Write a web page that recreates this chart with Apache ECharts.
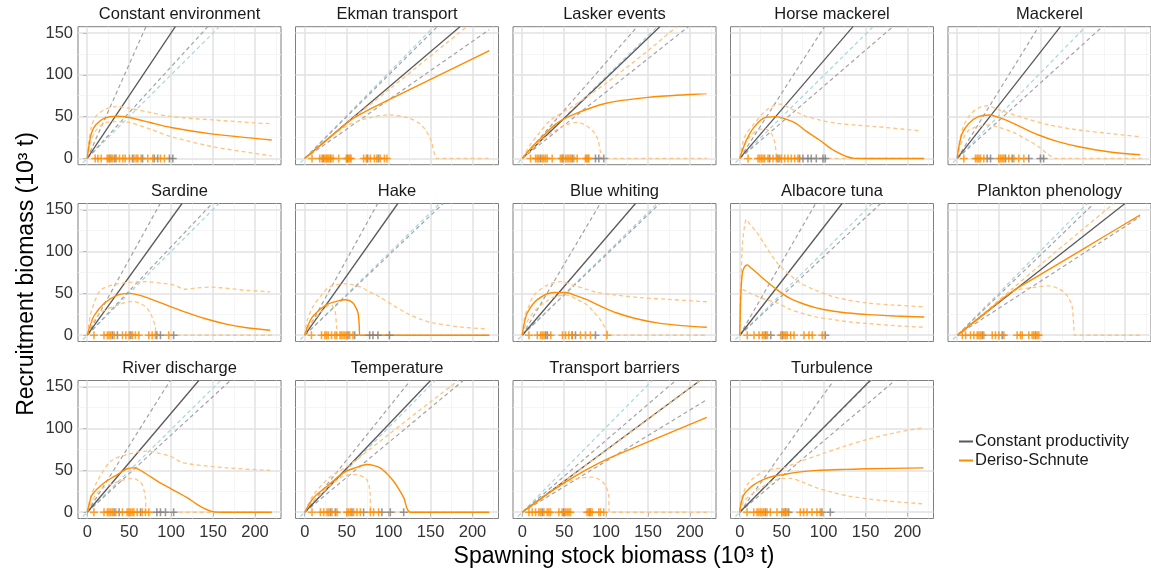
<!DOCTYPE html>
<html>
<head>
<meta charset="utf-8">
<script src="https://cdn.jsdelivr.net/npm/echarts@6/dist/echarts.min.js"></script>
<style>
html, body { margin: 0; padding: 0; background: #fff; }
#chart { width: 1151px; height: 574px; }
</style>
</head>
<body>
<div id="chart"></div>
<script>
// panel titles, read left to right, top to bottom
var titles = ['Constant environment', 'Ekman transport', 'Lasker events', 'Horse mackerel', 'Mackerel',
    'Sardine', 'Hake', 'Blue whiting', 'Albacore tuna', 'Plankton phenology',
    'River discharge', 'Temperature', 'Transport barriers', 'Turbulence'];

var xTicks = [0, 50, 100, 150, 200];
var xMinor = [25, 75, 125, 175, 225];
var yTicks = [0, 50, 100, 150];
var yMinor = [25, 75, 125];

// straight lines from the origin: point where each leaves the panel
var cpEnd   = [[105,157.5],[185,157.5],[164,157.5],[135,157.5],[123,157.5],[113,157.5],[111,157.5],[135,157.5],[122,157.5],[200,157.5],[133,157.5],[150,157.5],[212,157.5],[155.5,157.5]];
var cpHiEnd = [[70,157.5],[158,157.5],[137,157.5],[101,157.5],[97,157.5],[87,157.5],[87,157.5],[93,157.5],[90.5,157.5],[163,157.5],[99,157.5],[126,157.5],[183,157.5],[112,157.5]];
var cpLoEnd = [[143.7,157.5],[220,154],[198,157.5],[182.5,157.5],[173,157.5],[149,157.5],[165,157.5],[164,157.5],[168,157.5],[218,141.7],[170.6,157.5],[189,157.5],[220,134.5],[185,157.5]];
var blueEnd = [[157.5,157.5],[154,157.5],[161,157.5],[159,157.5],[153,157.5],[157,157.5],[161,157.5],[161,157.5],[158,157.5],[155,157.5],[159,157.5],[155.5,157.5],[155,157.5],[157,157.5]];
var blueTail = [-11, -11];

// Deriso-Schnute fit and its dashed band
var dsMid = [
    [[0,0],[2,15],[5,30],[10,40],[20,48],[35,50.5],[50,49],[75,43],[100,37],[150,29],[200,24],[220,22]],
    [[0,0],[25,21],[50,42],[58,48],[65,52],[80,60],[100,70],[150,94.5],[200,119],[220,129]],
    [[0,0],[10,12],[20,22],[40,41],[60,52],[100,66],[150,73],[200,76.5],[220,77.5]],
    [[0,0],[4,12],[8,22],[16,36],[28,48],[42,50],[55,47],[67,42],[80,32],[95,22],[110,11],[119,6],[128,2],[135,0.4],[150,0],[220,0]],
    [[0,0],[2,14],[6,30],[14,42],[25,50],[38,52],[57.5,46],[75,38],[97,28],[120,20],[145,14],[180,8],[218,4.4]],
    [[0,0],[3,10],[8,23],[20,38],[36,48],[50,50],[65,47],[79,42],[100,34],[119,27],[140,20],[167,13],[190,9],[218,6]],
    [[0,0],[4,12],[10,23],[26,36.5],[40,41],[48,42.5],[53,41.5],[57.5,38.5],[61,33],[63.5,26.6],[65,12],[65.5,0],[220,0]],
    [[0,0],[2,12],[6,26.6],[18,42.5],[38,51],[51.6,51],[65,47],[77,42.5],[95,34],[113,26.6],[135,20],[161,14.7],[190,11.5],[220,9.5]],
    [[0,0],[0.5,20],[1.2,46],[2.5,68],[4,78],[9,84],[14,80],[21,74],[30,66],[45,54],[60,44],[73,38.5],[90,33],[112,28.6],[130,26.5],[152,24.6],[185,23],[220,21.8]],
    [[0,0],[30,24],[65,52],[100,73],[150,103],[200,133],[218,143.5]],
    [[0,0],[2,8],[6,21],[20,35],[36,45],[47.6,52],[55,53],[59.5,52],[70,46],[87,35],[100,28],[119,17.5],[130,10],[139,4.8],[151,0.4],[160,0],[220,0]],
    [[0,0],[10.7,17.5],[26.6,31],[46,47],[60,53],[74,57],[82,56],[90,53],[100,44],[106,37],[112,28],[118,17.5],[126,0],[220,0]],
    [[0,0],[25,18],[50,35],[75,50],[100,63],[150,84],[200,105],[220,113.5]],
    [[0,0],[1,8],[5,21],[10,27],[17,33],[28,39],[40,43],[52,45],[70,48],[92,50],[120,51],[152,52],[219,53]]
];
var dsHi = [
    [[0,0],[2,20],[5,38],[10,50],[20,58],[35,62],[50,60],[75,55],[100,50],[150,46],[200,42.5],[220,41.5]],
    [[0,0],[50,42],[100,82],[193,157.5]],
    [[0,0],[10,17],[20,30],[34,46],[60,62],[100,90],[150,129],[184,157.5]],
    [[0,0],[4,20],[8,30],[16,40],[32,58],[48,65],[60,60],[75,52],[95,46],[115,42],[163,38],[216,33]],
    [[0,0],[3,22],[8,40],[16,53],[25,60],[36,63],[50,58],[81,48],[110,40],[145,34],[180,30],[218,26]],
    [[0,0],[4,25],[8,38],[16,54],[30,60],[48,63],[71,64],[90,62],[103,60],[117,55],[130,56.5],[147,57.5],[186,54],[218,52]],
    [[0,0],[3,18],[10,34.5],[20,48],[30,58],[50,61.5],[65.5,58],[77,52],[89,46],[105,36],[121,26.6],[137,19.5],[153,14.7],[185,10],[218,7.5]],
    [[0,0],[3,22],[8,35],[14,48],[30,60],[46,64],[60,60],[73,56],[90,51],[113,48],[140,45],[173,43],[220,40]],
    [[0,0],[1,40],[3,106],[6,132],[8,138.5],[12,133],[21,122],[30,108],[45,86],[60,72],[73,62],[90,54],[112,46],[130,42],[152,38.5],[185,36],[220,34]],
    [[0,0],[30,25],[65,55],[100,85],[150,127],[186.5,157.5]],
    [[0,0],[4,18],[12,37],[28,61],[47.6,69],[71,73],[87,70],[99,67],[112,60],[127,57],[167,53],[218,50]],
    [[0,0],[10,20],[30,42],[54,57],[100,93],[150,132],[183,157.5]],
    [[0,0],[50,37],[100,74],[150,111],[212,157.5]],
    [[0,0],[2,16],[9,33],[18,42],[29,49],[40,52],[52,53],[70,60],[96,69],[125,79],[152,87],[185,95],[219,101]]
];
var dsLo = [
    [[0,0],[5,22],[10,33],[20,42],[30,44],[50,43],[75,35],[100,26],[150,14],[200,6],[220,3]],
    [[0,0],[25,21],[50,39],[75,48],[100,52],[125,48],[140,39],[150,23],[155,4],[157,0],[220,0]],
    [[0,0],[20,19],[40,34],[55,41],[65,43],[75,40],[85,32],[90,23],[93,9],[95,0],[220,0]],
    [[0,0],[4,12],[12,26],[22,34],[30,35],[36,32],[40,25],[42,18],[44,2],[45,0],[220,0]],
    [[0,0],[3,14],[8,25],[14,34],[25,38],[38,40],[50,37],[65,32],[80,24],[97,14],[108,5],[113,2],[118,0],[220,0]],
    [[0,0],[4,10],[16,27],[38,36.5],[54,40.5],[65,37],[71,32.5],[76,25],[81,11],[83,0],[220,0]],
    [[0,0],[5,10],[14,22],[22,30],[30,36.5],[33,35],[36,30],[38,10.7],[39,0],[220,0]],
    [[0,0],[4,12],[10,23],[18,32.5],[28,40],[38,46],[53.6,48],[65,43],[77,36.5],[85,28],[93,18.7],[101,4.8],[103,0],[220,0]],
    [[0,0],[0.5,30],[1,56],[5,54],[15,49],[30,43],[45,38.5],[60,31],[73,26.6],[90,22],[112,18.7],[130,16],[152,14],[185,11.5],[220,9.5]],
    [[0,0],[30,23],[65.5,52],[90,57],[109,59],[120,56],[129,50],[134,42],[137,34.5],[139,10],[139.5,0],[220,0]],
    [[0,0],[4,10],[16,27],[38,37],[55.5,40.5],[62,37],[65.5,33],[68,25],[69.4,17.5],[70.6,0],[220,0]],
    [[0,0],[5,8],[18.7,21],[30,32],[46,43],[62,45],[70,42],[74,39],[77,30],[78,21],[79,0],[220,0]],
    [[0,0],[20,14],[34,25],[50,34],[61.5,39],[81,42],[90,40],[97,35],[101,28],[103,21],[104,0],[220,0]],
    [[0,0],[5,13],[15,22],[25,29],[44,39],[60,40.5],[75,36],[92,29],[110,24],[132,19],[170,14],[219,10]]
];

// rug marks at zero
var rugOrange = [
    [9.5,12.7,16.7,23.8,25.4,28.6,30.6,34.5,38.5,42.5,45.2,50.4,55.6,58.3,60.3,64.3,72.2,78.2,87.3,92],
    [8.7,17.9,20.6,24,25.8,27,28.6,30.5,33.7,40.5,49.6,52.4,54,55.2,70.2,73.4,78.2,83,86,90,95,98],
    [9.9,15.9,17.9,19.8,23.8,25.8,27.8,29.8,35.7,45.6,48.8,51.6,53.6,55.6,57.5,61.5,65.5,75.4,76.6,78.2,79.4],
    [10,21.8,23.8,25.8,27.8,29.8,33.7,39.7,43.7,47.6,49.6,53.6,57.5,61.5,65.5,69.4],
    [7.9,21.8,23.8,25.8,27.8,31.7,49.6,51.6,53.6,55.6,61.5,67.5,73.4,79.4],
    [8,20,24,26,28,32,42,46,50,54,57.5,61.5,73.4,77.4,81.3,97.2],
    [8,20,24,26,28,32,36,38,42,43.7,45.6,47.6,49.6,53.6,57.5],
    [8,18,22,24,26,34,48,51.6,55.6,59.5,69.4,75.4,81.3,101],
    [9,17,23,27,29,33,49,52.8,54.8,56.7,60.7,64.7,76.6,82.5,86.5,98.4],
    [6,10,15.9,19.8,23.8,25.8,27.8,31.7,41.7,45.6,49.6,55.6,71.4,75.4,77.4,85.3,89.3,91.3,95.2,97.2],
    [8,20,24,26,28,30,34,42,47.6,49.6,51.6,53.6,55.6,59.5,65.5,69.4,73.4],
    [8.7,18.7,22.6,26.6,28.6,32.5,38.5,50.4,52.4,54.4,58.3,62.3,66.3,78.2,82.1,88],
    [8,12,15.9,19.8,21.8,25.8,29.8,31.7,33.7,43.7,47.6,51.6,53.6,55.6,57.5,77.4,79.4,81.3,83.3,91.3,93.3,97.2],
    [8.7,16.7,20.6,22.6,24.6,26.6,28.6,32.5,36.5,44.4,50.4,52.4,54.4,56.3,72.2,76.2,80.2,86.1,92,96]
];
var rugGrey = [
    [27,33,54,66,80,84,98,102],
    [22,31,51,75,88],
    [21.8,47.6,59.5,87.3,91.3,97.2],
    [35.7,45.6,71.4,75.4,81.3,85.3,91.3,99.2,102],
    [35.7,39.7,57.5,65.5,85.3,99.2,103],
    [30,36,52,83,87.3,103],
    [51.6,59.5,77.4,81.3,87.3,101],
    [28,30,59.5,63.5,87.3],
    [31,37,51,102],
    [29.8,53.6,93.3],
    [32,38,63.5,83,87.3,93.3,103],
    [30.6,36.5,56.3,70.2,92,102,118],
    [23.8,49.6,80.6],
    [30.6,54.4,58.3,98,108]
];

var FONT = "'Liberation Sans', Arial, sans-serif";
var colLeft = [78, 295.5, 513, 730.5, 948];
var rowTop = [26.7, 203.5, 380.5];
var panelW = 203, panelH = 138;
var plusIcon = 'path://M3.2,0H4.8V3.2H8V4.8H4.8V8H3.2V4.8H0V3.2H3.2Z';

var grids = [], xAxes = [], yAxes = [], series = [], graphics = [];

// background grid lines, drawn as markLines under everything else
function gridMarks() {
    var d = [];
    xMinor.forEach(function (v) { d.push({ xAxis: v, lineStyle: { color: '#f2f2f2', width: 0.8, type: 'solid' } }); });
    yMinor.forEach(function (v) { d.push({ yAxis: v, lineStyle: { color: '#f2f2f2', width: 0.8, type: 'solid' } }); });
    xTicks.forEach(function (v) { d.push({ xAxis: v, lineStyle: { color: '#e2e2e2', width: 1.5, type: 'solid' } }); });
    yTicks.forEach(function (v) { d.push({ yAxis: v, lineStyle: { color: '#e2e2e2', width: 1.5, type: 'solid' } }); });
    return d;
}

function lineSeries(i, name, data, color, width, dashed, z, smooth) {
    return {
        type: 'line', name: name, xAxisIndex: i, yAxisIndex: i,
        data: data, showSymbol: false, symbol: 'none', z: z,
        smooth: smooth ? 0.3 : false, clip: true, silent: true,
        color: color,
        lineStyle: { color: color, width: width, type: dashed ? [4, 3] : 'solid' }
    };
}

for (var i = 0; i < titles.length; i++) {
    var row = Math.floor(i / 5), col = i % 5;
    var bottomRow = row === 2;
    grids.push({
        left: colLeft[col], top: rowTop[row], width: panelW, height: panelH,
        show: true, borderColor: '#7f7f7f', borderWidth: 1, backgroundColor: '#fff'
    });
    xAxes.push({
        gridIndex: i, type: 'value', min: -11, max: 231,
        axisLine: { show: false }, splitLine: { show: false },
        axisTick: { show: bottomRow, customValues: xTicks, length: 4, lineStyle: { color: '#333' } },
        axisLabel: { show: bottomRow, customValues: xTicks, fontSize: 16.5, color: '#333', margin: 5, fontFamily: FONT }
    });
    yAxes.push({
        gridIndex: i, type: 'value', min: -7.5, max: 157.5,
        axisLine: { show: false }, splitLine: { show: false },
        axisTick: { show: col === 0, customValues: yTicks, length: 4, lineStyle: { color: '#333' } },
        axisLabel: { show: col === 0, customValues: yTicks, fontSize: 16.5, color: '#333', margin: 5, fontFamily: FONT }
    });

    series.push({
        type: 'line', xAxisIndex: i, yAxisIndex: i, data: [], silent: true, z: 1,
        markLine: { z: 1, silent: true, symbol: 'none', animation: false, label: { show: false }, data: gridMarks() }
    });
    series.push(lineSeries(i, 'blue', [blueTail, [0, 0], blueEnd[i]], '#a9d4e4', 1.2, true, 3, false));
    series.push(lineSeries(i, 'cpHi', [[0, 0], cpHiEnd[i]], '#a3a3a3', 1.2, true, 4, false));
    series.push(lineSeries(i, 'cpLo', [[0, 0], cpLoEnd[i]], '#a3a3a3', 1.2, true, 4, false));
    series.push(lineSeries(i, 'Constant productivity', [[0, 0], cpEnd[i]], '#595959', 1.3, false, 5, false));
    series.push(lineSeries(i, 'dsHi', dsHi[i], '#ffc47f', 1.3, true, 6, true));
    series.push(lineSeries(i, 'dsLo', dsLo[i], '#ffc47f', 1.3, true, 6, true));
    series.push(lineSeries(i, 'Deriso-Schnute', dsMid[i], '#ff8c00', 1.4, false, 7, true));
    series.push({
        type: 'scatter', xAxisIndex: i, yAxisIndex: i, z: 8, silent: true,
        symbol: plusIcon, symbolSize: 8, itemStyle: { color: '#7f7f7f' },
        data: rugGrey[i].map(function (x) { return [x, 0]; })
    });
    series.push({
        type: 'scatter', xAxisIndex: i, yAxisIndex: i, z: 9, silent: true,
        symbol: plusIcon, symbolSize: 8, itemStyle: { color: '#ff8c00' },
        data: rugOrange[i].map(function (x) { return [x, 0]; })
    });

    graphics.push({
        type: 'text', x: colLeft[col] + panelW / 2, y: rowTop[row] - 12.5,
        style: { text: titles[i], fill: '#1a1a1a', fontSize: 16.5, fontFamily: FONT, align: 'center', verticalAlign: 'middle' }
    });
}

graphics.push({
    type: 'text', x: 614, y: 557,
    style: { text: 'Spawning stock biomass (10³ t)', fill: '#000', fontSize: 23, fontFamily: FONT, align: 'center', verticalAlign: 'middle' }
});
graphics.push({
    type: 'text', x: 27, y: 274, rotation: Math.PI / 2,
    style: { text: 'Recruitment biomass (10³ t)', fill: '#000', fontSize: 23, fontFamily: FONT, align: 'center', verticalAlign: 'middle' }
});

var myChart = echarts.init(document.getElementById('chart'));
myChart.setOption({
    animation: false,
    backgroundColor: '#fff',
    grid: grids,
    xAxis: xAxes,
    yAxis: yAxes,
    legend: {
        data: ['Constant productivity', 'Deriso-Schnute'],
        orient: 'vertical', left: 959, top: 433, padding: 0,
        icon: 'rect', itemWidth: 14, itemHeight: 2, itemGap: 2,
        selectedMode: false,
        textStyle: { fontSize: 16.5, color: '#1a1a1a', fontFamily: FONT, padding: [0, 0, 0, -3] }
    },
    graphic: graphics,
    series: series
});
</script>
</body>
</html>
